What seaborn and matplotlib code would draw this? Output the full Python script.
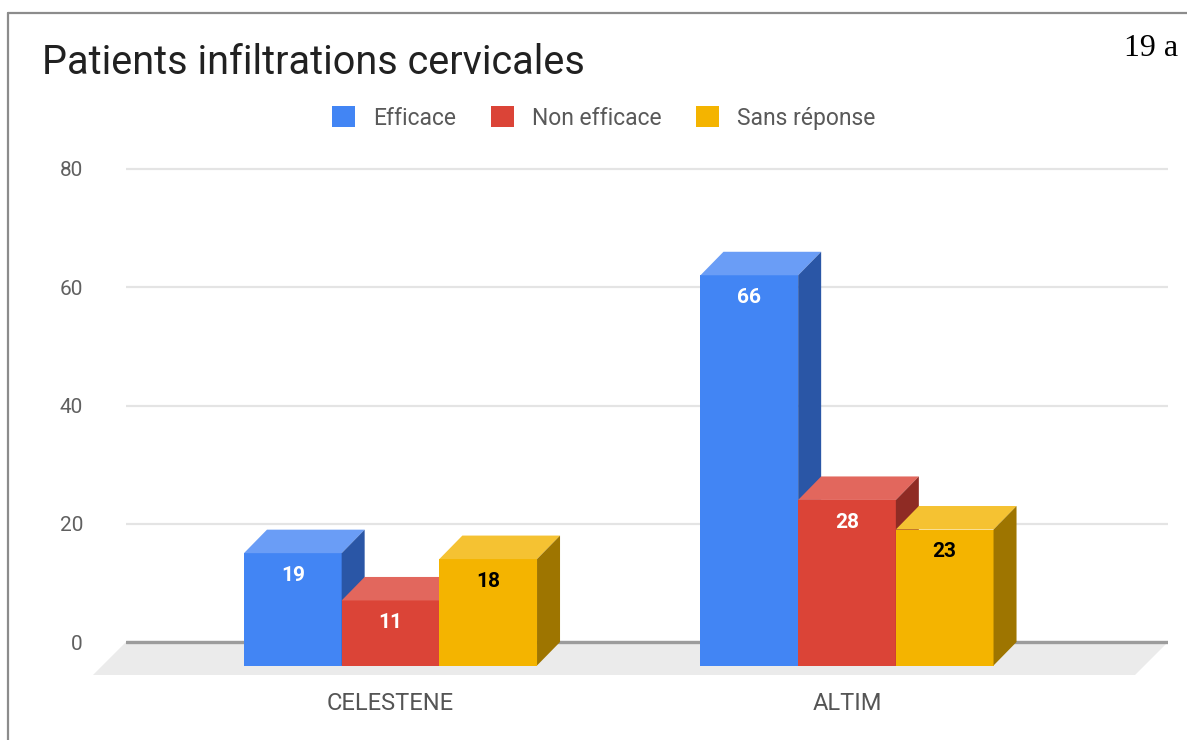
import matplotlib
matplotlib.use("Agg")
import matplotlib.pyplot as plt
from matplotlib.patches import Polygon, Patch
from matplotlib.lines import Line2D
import seaborn as sns
import pandas as pd

# ---- data ----
title = "Patients infiltrations cervicales"
categories = ["CELESTENE", "ALTIM"]
series = ["Efficace", "Non efficace", "Sans réponse"]
efficace = [19, 66]
non_efficace = [11, 28]
sans_reponse = [18, 23]
y_ticks = [0, 20, 40, 60, 80]
corner_note = "19 a"

# ---- styles ----
front_colors = ["#4285F4", "#DB4437", "#F4B400"]
top_colors = ["#6A9DF6", "#E2675D", "#F5C232"]
side_colors = ["#2A56A6", "#8F2B24", "#9E7500"]
label_colors = ["white", "white", "black"]

df = pd.DataFrame({
    "category": categories * 3,
    "series": [s for s in series for _ in categories],
    "value": efficace + non_efficace + sans_reponse,
})

sns.set_theme(style="white")
plt.rcParams["font.family"] = ["Roboto", "DejaVu Sans"]

W, H = 1187, 740
fig = plt.figure(figsize=(W / 100, H / 100), dpi=100)
fig.patch.set_facecolor("white")

# layout (pixels)
x_left_px, x_right_px = 126, 1168
cat0_px = 390.5
ppu_x = 456.5
ppu_y = 5.9125
zero_px = 642
ymin, ymax = -7, 82
xmin = -(cat0_px - x_left_px) / ppu_x
xmax = (x_right_px - cat0_px) / ppu_x
bottom_px = zero_px - ymin * ppu_y
top_px = zero_px - ymax * ppu_y
ax = fig.add_axes([x_left_px / W, 1 - bottom_px / H,
                   (x_right_px - x_left_px) / W, (bottom_px - top_px) / H])
ax.set_facecolor("none")

dx = 23 / ppu_x      # bar depth (x, data units)
dy = 23.5 / ppu_y    # bar depth (y, data units)
fdx = 33 / ppu_x     # floor depth
fdy = 33 / ppu_y

sns.barplot(data=df, x="category", y="value", hue="series",
            order=categories, hue_order=series, palette=front_colors,
            width=0.642, saturation=1, legend=False, linewidth=0, ax=ax)

ax.set_xlim(xmin, xmax)
ax.set_ylim(ymin, ymax)
ax.set_yticks(y_ticks)
ax.set_xlabel("")
ax.set_ylabel("")
for s in ax.spines.values():
    s.set_visible(False)
ax.yaxis.grid(True, color="#e4e4e4", lw=1.6, zorder=0)
ax.xaxis.grid(False)
ax.set_axisbelow(True)

# floor
floor = Polygon([(xmin, 0), (xmax, 0), (xmax - fdx, -fdy), (xmin - fdx, -fdy)],
                closed=True, facecolor="#ebebeb", edgecolor="none",
                zorder=1, clip_on=False)
ax.add_patch(floor)
ax.axhline(0, color="#9c9c9c", lw=2.4, zorder=1.5)

# 3D bars
items = []
for i, cont in enumerate(ax.containers):
    for p, v in zip(cont.patches, cont.datavalues):
        items.append((p.get_x(), i, p, v))
items.sort(key=lambda t: t[0])
z = 3
for _, i, p, v in items:
    x0, w, h = p.get_x(), p.get_width(), p.get_height()
    p.set_y(p.get_y() - dy)
    p.set_zorder(z)
    p.set_edgecolor("none")
    top = Polygon([(x0, h - dy), (x0 + w, h - dy), (x0 + w + dx, h), (x0 + dx, h)],
                  closed=True, facecolor=top_colors[i], edgecolor="none", zorder=z + 0.1)
    side = Polygon([(x0 + w, -dy), (x0 + w + dx, 0), (x0 + w + dx, h), (x0 + w, h - dy)],
                   closed=True, facecolor=side_colors[i], edgecolor="none", zorder=z + 0.2)
    ax.add_patch(top)
    ax.add_patch(side)
    ax.annotate(f"{v:g}", xy=(x0 + w / 2, h - dy), xytext=(0, -16),
                textcoords="offset points", ha="center", va="center",
                color=label_colors[i], fontsize=15, fontweight="semibold", zorder=z + 0.3)
    z += 1

ax.tick_params(axis="y", length=0, pad=31, labelsize=15, labelcolor="#606060")
ax.tick_params(axis="x", length=0, pad=6, labelsize=17, labelcolor="#555555")

# legend
handles = [Patch(facecolor=c, edgecolor="none") for c in front_colors]
fig.legend(handles=handles, labels=series, loc="center",
           bbox_to_anchor=(604 / W, 1 - 118 / H), ncol=3, frameon=False,
           fontsize=16.5, handlelength=1.0, handleheight=1.0, handletextpad=0.8,
           columnspacing=1.5, labelcolor="#595959")

# title & note
fig.text(42 / W, 1 - 62 / H, title, fontsize=28.5, ha="left", va="center", color="#212121")
fig.text(1178 / W, 1 - 49 / H, corner_note, fontsize=23, ha="right", va="center",
         family=["Liberation Serif", "DejaVu Serif"], color="black")

# frame lines (screenshot border)
fig.add_artist(Line2D([8 / W, 8 / W], [0, 1 - 13 / H], color="#8c8c8c", lw=1.6,
                      transform=fig.transFigure))
fig.add_artist(Line2D([8 / W, 1], [1 - 13 / H, 1 - 13 / H], color="#8c8c8c", lw=1.6,
                      transform=fig.transFigure))

fig.savefig("out.png", dpi=100)
